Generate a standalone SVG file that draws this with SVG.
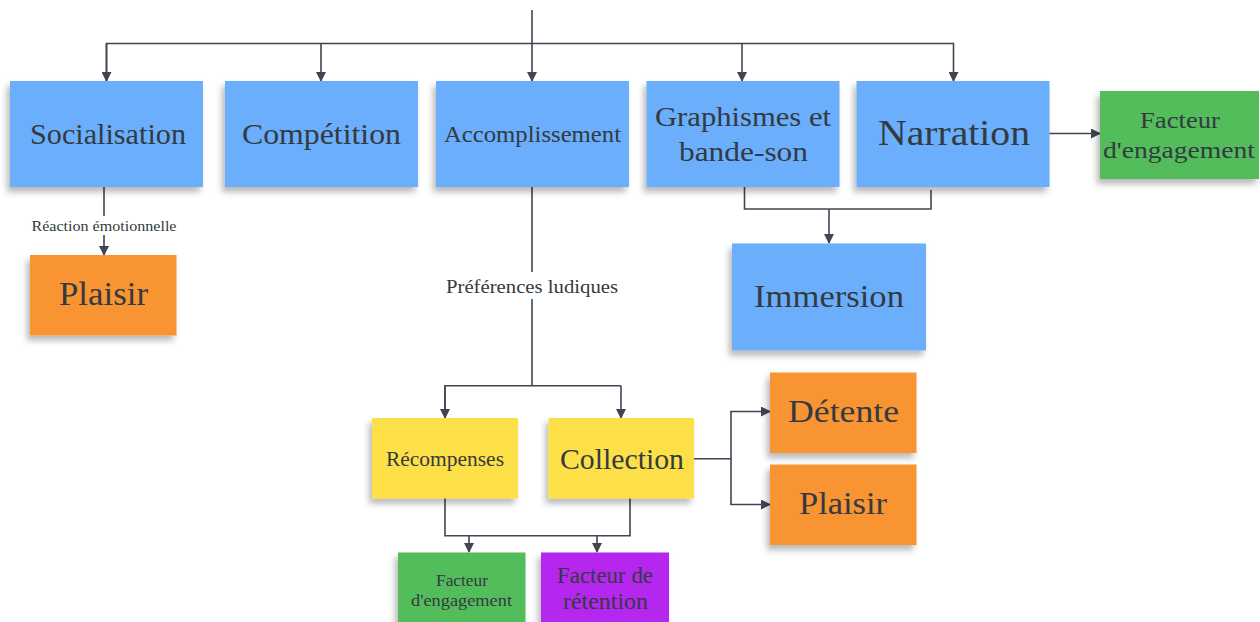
<svg xmlns="http://www.w3.org/2000/svg" width="1260" height="622" viewBox="0 0 1260 622">
  <style>
    .note { filter: url(#shadow); }
    .blue { fill: #6aaefc; }
    .orange { fill: #f99431; }
    .green { fill: #52bd5b; }
    .yellow { fill: #fde047; }
    .purple { fill: #b525ef; }
    text { font-family: "Liberation Serif", "DejaVu Serif", serif; fill: #333a40; text-anchor: middle; dominant-baseline: central; }
    .wire { fill: none; stroke: #3f4652; stroke-width: 1.6; }
  </style>
  <defs>
    <filter id="shadow" x="-20%" y="-20%" width="140%" height="150%">
      <feDropShadow dx="-3" dy="5" stdDeviation="3" flood-color="#000" flood-opacity="0.28"/>
    </filter>
    <marker id="arrow" viewBox="0 0 10 10" refX="9" refY="5" markerWidth="10" markerHeight="10" markerUnits="userSpaceOnUse" orient="auto">
      <path d="M0,0 L10,5 L0,10 z" fill="#3f4652"/>
    </marker>
  </defs>
  <rect width="1260" height="622" fill="#ffffff"/>

  <!-- connectors -->
  <g id="connectors">
    <path class="wire" d="M532,10 V81" marker-end="url(#arrow)"/>
    <path class="wire" d="M106.5,81 V43.5 H953.5 V81" marker-end="url(#arrow)"/>
    <path class="wire" d="M106.5,43.5 V81" marker-end="url(#arrow)"/>
    <path class="wire" d="M321,43.5 V81" marker-end="url(#arrow)"/>
    <path class="wire" d="M742,43.5 V81" marker-end="url(#arrow)"/>
    <path class="wire" d="M1049,133.5 H1100" marker-end="url(#arrow)"/>
    <!-- Socialisation to Plaisir -->
    <path class="wire" d="M104,187 V216"/>
    <path class="wire" d="M104,235 V255" marker-end="url(#arrow)"/>
    <!-- Graphismes + Narration to Immersion -->
    <path class="wire" d="M744.5,187 V209 H931 V190"/>
    <path class="wire" d="M829,209 V243" marker-end="url(#arrow)"/>
    <!-- Accomplissement to Récompenses / Collection -->
    <path class="wire" d="M532,187 V272"/>
    <path class="wire" d="M532,299 V385.7"/>
    <path class="wire" d="M445,418 V385.7 H621" />
    <path class="wire" d="M445,385.7 V418" marker-end="url(#arrow)"/>
    <path class="wire" d="M621,385.7 V418" marker-end="url(#arrow)"/>
    <!-- Récompenses / Collection to factors -->
    <path class="wire" d="M445,498 V535.7 H630 V498"/>
    <path class="wire" d="M469,535.7 V552" marker-end="url(#arrow)"/>
    <path class="wire" d="M597,535.7 V552" marker-end="url(#arrow)"/>
    <!-- Collection to Détente / Plaisir -->
    <path class="wire" d="M694,458.7 H731"/>
    <path class="wire" d="M731,411.5 V504.5"/>
    <path class="wire" d="M730.2,411.5 H770" marker-end="url(#arrow)"/>
    <path class="wire" d="M730.2,504.5 H770" marker-end="url(#arrow)"/>
    <text x="104" y="226" font-size="15" textLength="145" lengthAdjust="spacingAndGlyphs">Réaction émotionnelle</text>
    <text x="532" y="286" font-size="19" textLength="172" lengthAdjust="spacingAndGlyphs">Préférences ludiques</text>
  </g>

  <g id="socialisation">
    <rect class="note blue" x="10" y="81" width="193" height="106"/>
    <text x="108" y="134" font-size="29" textLength="156" lengthAdjust="spacingAndGlyphs">Socialisation</text>
  </g>
  <g id="competition">
    <rect class="note blue" x="225" y="81" width="193" height="106"/>
    <text x="321.5" y="134" font-size="29" textLength="159" lengthAdjust="spacingAndGlyphs">Compétition</text>
  </g>
  <g id="accomplissement">
    <rect class="note blue" x="436" y="81" width="193" height="106"/>
    <text x="532.5" y="134" font-size="23" textLength="177" lengthAdjust="spacingAndGlyphs">Accomplissement</text>
  </g>
  <g id="graphismes">
    <rect class="note blue" x="646.5" y="81" width="193" height="106"/>
    <text x="743" y="117" font-size="27" textLength="176" lengthAdjust="spacingAndGlyphs">Graphismes et</text>
    <text x="743.5" y="152" font-size="27" textLength="129" lengthAdjust="spacingAndGlyphs">bande-son</text>
  </g>
  <g id="narration">
    <rect class="note blue" x="856.5" y="81" width="193" height="106"/>
    <text x="954" y="133" font-size="35" textLength="152" lengthAdjust="spacingAndGlyphs">Narration</text>
  </g>
  <g id="facteur-engagement-1">
    <rect class="note green" x="1100" y="91" width="159" height="88"/>
    <text x="1180" y="120" font-size="23" textLength="80" lengthAdjust="spacingAndGlyphs">Facteur</text>
    <text x="1179" y="150" font-size="23" textLength="152" lengthAdjust="spacingAndGlyphs">d'engagement</text>
  </g>
  <g id="plaisir-1">
    <rect class="note orange" x="30" y="255" width="146.5" height="80.5"/>
    <text x="103.5" y="294" font-size="33" textLength="89" lengthAdjust="spacingAndGlyphs">Plaisir</text>
  </g>
  <g id="immersion">
    <rect class="note blue" x="732" y="243.5" width="194" height="107"/>
    <text x="829" y="296" font-size="31" textLength="150" lengthAdjust="spacingAndGlyphs">Immersion</text>
  </g>
  <g id="recompenses">
    <rect class="note yellow" x="372" y="418" width="146" height="80.5"/>
    <text x="445" y="458.5" font-size="20" textLength="118" lengthAdjust="spacingAndGlyphs">Récompenses</text>
  </g>
  <g id="collection">
    <rect class="note yellow" x="548.5" y="418" width="145.5" height="80.5"/>
    <text x="622" y="458.5" font-size="29" textLength="124" lengthAdjust="spacingAndGlyphs">Collection</text>
  </g>
  <g id="detente">
    <rect class="note orange" x="770" y="372.5" width="146.5" height="80.5"/>
    <text x="843.5" y="411" font-size="32" textLength="111" lengthAdjust="spacingAndGlyphs">Détente</text>
  </g>
  <g id="plaisir-2">
    <rect class="note orange" x="770" y="464.5" width="146.5" height="80.5"/>
    <text x="843" y="503" font-size="32" textLength="88" lengthAdjust="spacingAndGlyphs">Plaisir</text>
  </g>
  <g id="facteur-engagement-2">
    <rect class="note green" x="398" y="552.5" width="127.5" height="80"/>
    <text x="462" y="580" font-size="17" textLength="52" lengthAdjust="spacingAndGlyphs">Facteur</text>
    <text x="461.5" y="600" font-size="17" textLength="101" lengthAdjust="spacingAndGlyphs">d'engagement</text>
  </g>
  <g id="facteur-retention">
    <rect class="note purple" x="541" y="552.5" width="128" height="80"/>
    <text x="605" y="575" font-size="23" textLength="96" lengthAdjust="spacingAndGlyphs">Facteur de</text>
    <text x="605.5" y="601" font-size="23" textLength="85" lengthAdjust="spacingAndGlyphs">rétention</text>
  </g>
</svg>
